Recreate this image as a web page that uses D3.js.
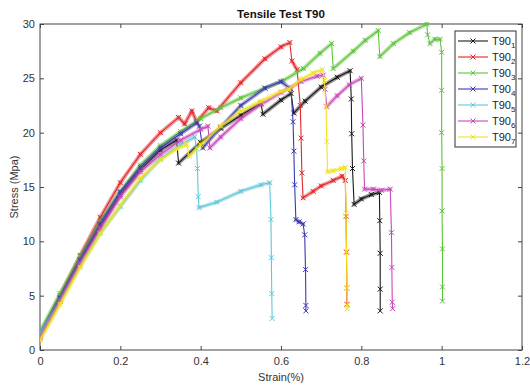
<!DOCTYPE html>
<html>
<head>
<meta charset="utf-8">
<script src="https://cdn.jsdelivr.net/npm/d3@7"></script>
<style>
  body { margin: 0; background: #fff; }
  text { font-family: "Liberation Sans", Arial, sans-serif; }
</style>
</head>
<body>
<svg id="chart" width="530" height="385"></svg>
<script>
// strain (%) / stress (MPa) pairs
const T90_1 = [[0,1.3],[0.05,4.7],[0.1,8.2],[0.15,11.4],[0.2,14.3],[0.25,16.6],[0.3,18.4],[0.34,19.3],[0.345,17.2],[0.4,19.1],[0.45,20.4],[0.5,21.6],[0.55,22.7],[0.555,21.7],[0.6,23.0],[0.625,23.6],[0.632,21.8],[0.66,22.9],[0.7,24.2],[0.74,25.1],[0.772,25.7],[0.775,23.1],[0.776,19.9],[0.778,16.7],[0.782,13.4],[0.8,13.9],[0.825,14.3],[0.845,14.5],[0.846,11.9],[0.847,8.9],[0.847,5.6],[0.847,3.6]];
const T90_2 = [[0,1.2],[0.05,5.0],[0.1,8.7],[0.15,12.2],[0.2,15.4],[0.25,18.0],[0.3,20.0],[0.345,21.4],[0.36,20.8],[0.378,22.0],[0.39,21.0],[0.42,22.3],[0.44,22.0],[0.5,24.6],[0.56,26.8],[0.6,27.9],[0.622,28.3],[0.627,26.6],[0.64,25.8],[0.648,22.5],[0.65,19.5],[0.652,16.3],[0.655,14.0],[0.68,14.6],[0.7,15.1],[0.73,15.6],[0.752,16.0],[0.76,15.6],[0.762,12.3],[0.763,9.0],[0.764,5.7],[0.764,4.2]];
const T90_3 = [[0,1.7],[0.05,5.2],[0.1,8.6],[0.15,11.8],[0.2,14.6],[0.25,17.0],[0.3,18.8],[0.35,20.1],[0.4,21.3],[0.45,22.3],[0.5,23.2],[0.56,24.1],[0.606,24.8],[0.656,25.9],[0.697,27.3],[0.726,28.2],[0.73,25.9],[0.78,27.5],[0.81,28.5],[0.842,29.4],[0.846,27.0],[0.88,28.2],[0.92,29.2],[0.963,30.0],[0.965,29.0],[0.971,28.2],[0.983,28.6],[0.996,28.6],[1.0,27.4],[1.0,23.9],[1.0,20.0],[1.001,16.7],[1.001,12.8],[1.002,9.3],[1.002,5.8],[1.002,4.5]];
const T90_4 = [[0,1.4],[0.05,4.8],[0.1,8.3],[0.15,11.6],[0.2,14.5],[0.25,16.8],[0.3,18.6],[0.35,19.9],[0.39,20.9],[0.397,20.6],[0.405,18.6],[0.45,20.5],[0.5,22.5],[0.56,24.1],[0.6,24.7],[0.625,24.0],[0.63,21.0],[0.632,18.3],[0.634,15.2],[0.637,12.0],[0.645,11.8],[0.655,11.6],[0.659,10.6],[0.661,7.4],[0.662,4.1],[0.662,3.6]];
const T90_5 = [[0,1.5],[0.05,4.5],[0.1,7.8],[0.15,10.8],[0.2,13.2],[0.25,15.6],[0.3,17.6],[0.35,18.9],[0.385,19.6],[0.39,18.5],[0.392,16.7],[0.394,14.1],[0.396,13.1],[0.44,13.6],[0.5,14.6],[0.55,15.2],[0.572,15.4],[0.575,12.0],[0.576,8.5],[0.577,5.2],[0.578,2.9]];
const T90_6 = [[0,1.1],[0.05,4.5],[0.1,8.0],[0.15,11.2],[0.2,14.1],[0.25,16.4],[0.3,18.0],[0.35,19.3],[0.4,20.3],[0.418,20.6],[0.423,18.6],[0.45,19.6],[0.5,21.3],[0.55,22.6],[0.6,23.7],[0.65,24.7],[0.69,25.2],[0.705,25.3],[0.71,24.0],[0.714,22.4],[0.74,23.4],[0.77,24.4],[0.8,25.0],[0.804,20.7],[0.806,17.4],[0.808,14.8],[0.83,14.8],[0.85,14.7],[0.872,14.8],[0.875,10.8],[0.876,7.6],[0.877,4.4],[0.878,3.8]];
const T90_7 = [[0,0.9],[0.05,4.2],[0.1,7.6],[0.15,10.7],[0.2,13.3],[0.25,15.8],[0.3,17.5],[0.34,18.5],[0.365,18.9],[0.372,17.8],[0.4,18.9],[0.45,20.6],[0.5,22.0],[0.55,22.9],[0.6,23.8],[0.62,24.0],[0.65,24.9],[0.68,25.5],[0.703,25.8],[0.708,24.8],[0.712,22.4],[0.714,19.2],[0.716,16.4],[0.73,16.5],[0.75,16.7],[0.76,16.8],[0.762,12.6],[0.763,9.1],[0.764,5.7],[0.765,4.1],[0.765,3.8]];

const seriesNames = ["1", "2", "3", "4", "5", "6", "7"];
const seriesData = [T90_1, T90_2, T90_3, T90_4, T90_5, T90_6, T90_7];
const colors = ["#1a1a1a", "#e3262b", "#5cc43a", "#3d3aae", "#62c6d9", "#c948b8", "#f2e21c"];

const xTicks = [0, 0.2, 0.4, 0.6, 0.8, 1, 1.2];
const yTicks = [0, 5, 10, 15, 20, 25, 30];

const svg = d3.select("#chart");
const margin = { top: 24, right: 8, bottom: 35, left: 40 };
const W = 530, H = 385;

const x = d3.scaleLinear().domain([0, 1.2]).range([margin.left, W - margin.right]);
const y = d3.scaleLinear().domain([0, 30]).range([H - margin.bottom, margin.top]);

svg.append("clipPath").attr("id", "plotClip")
  .append("rect")
  .attr("x", x(0)).attr("y", y(30) - 2)
  .attr("width", x(1.2) - x(0)).attr("height", y(0) - y(30) + 2);

// axes (inward ticks on all four sides, MATLAB style)
const axisColor = "#444";
const styleAxis = g => {
  g.select(".domain").remove();
  g.selectAll(".tick line").attr("stroke", axisColor);
  g.selectAll(".tick text").attr("fill", "#333").style("font-size", "11px");
};

svg.append("g").attr("transform", `translate(0,${y(0)})`)
  .call(d3.axisBottom(x).tickValues(xTicks).tickSize(-4).tickPadding(7).tickFormat(d3.format("~g")))
  .call(styleAxis);
svg.append("g").attr("transform", `translate(0,${y(30)})`)
  .call(d3.axisTop(x).tickValues(xTicks).tickSize(-4).tickFormat(""))
  .call(styleAxis);
svg.append("g").attr("transform", `translate(${x(0)},0)`)
  .call(d3.axisLeft(y).tickValues(yTicks).tickSize(-4).tickPadding(5))
  .call(styleAxis);
svg.append("g").attr("transform", `translate(${x(1.2)},0)`)
  .call(d3.axisRight(y).tickValues(yTicks).tickSize(-4).tickFormat(""))
  .call(styleAxis);

svg.append("rect")
  .attr("x", x(0)).attr("y", y(30))
  .attr("width", x(1.2) - x(0)).attr("height", y(0) - y(30))
  .attr("fill", "none").attr("stroke", axisColor).attr("stroke-width", 1);

// curves
const line = d3.line().x(d => x(d[0])).y(d => y(d[1]));
const cross = "M-2.5,-2.5L2.5,2.5M-2.5,2.5L2.5,-2.5";
const plot = svg.append("g").attr("clip-path", "url(#plotClip)");

seriesData.forEach((pts, i) => {
  const g = plot.append("g");
  // dense markers on the loading parts look like a fuzzy band; drops stay thin
  const bandSegs = [];
  for (let k = 1; k < pts.length; k++) {
    const dx = Math.abs(x(pts[k][0]) - x(pts[k - 1][0]));
    const dy = Math.abs(y(pts[k][1]) - y(pts[k - 1][1]));
    if (dx > 0.3 * dy) bandSegs.push([pts[k - 1], pts[k]]);
  }
  g.selectAll(".band").data(bandSegs).enter().append("path")
    .attr("d", line)
    .attr("fill", "none")
    .attr("stroke", colors[i])
    .attr("stroke-width", 4)
    .attr("stroke-linecap", "round")
    .attr("opacity", 0.45);
  g.append("path").datum(pts)
    .attr("d", line)
    .attr("fill", "none")
    .attr("stroke", colors[i])
    .attr("stroke-width", 1.1);
  g.selectAll(".mk").data(pts).enter().append("path")
    .attr("d", cross)
    .attr("transform", d => `translate(${x(d[0])},${y(d[1])})`)
    .attr("fill", "none")
    .attr("stroke", colors[i])
    .attr("stroke-width", 1);
});

// title and labels
svg.append("text")
  .attr("x", (x(0) + x(1.2)) / 2).attr("y", 18)
  .attr("text-anchor", "middle")
  .style("font-size", "11.5px").style("font-weight", "bold")
  .attr("fill", "#111")
  .text("Tensile Test T90");

svg.append("text")
  .attr("x", (x(0) + x(1.2)) / 2).attr("y", 381)
  .attr("text-anchor", "middle")
  .style("font-size", "11px").attr("fill", "#333")
  .text("Strain(%)");

svg.append("text")
  .attr("transform", `translate(18,${(y(0) + y(30)) / 2}) rotate(-90)`)
  .attr("text-anchor", "middle")
  .style("font-size", "11px").attr("fill", "#333")
  .text("Stress (Mpa)");

// legend
const legend = svg.append("g");
legend.append("rect")
  .attr("x", 455).attr("y", 31).attr("width", 61).attr("height", 116)
  .attr("fill", "#fff").attr("stroke", "#333").attr("stroke-width", 1);

seriesNames.forEach((n, i) => {
  const ly = 41 + i * 16;
  legend.append("line")
    .attr("x1", 458).attr("x2", 488).attr("y1", ly).attr("y2", ly)
    .attr("stroke", colors[i]).attr("stroke-width", 1.1);
  legend.append("path")
    .attr("d", cross).attr("transform", `translate(473,${ly})`)
    .attr("fill", "none").attr("stroke", colors[i]).attr("stroke-width", 1);
  const t = legend.append("text")
    .attr("x", 492).attr("y", ly + 4)
    .style("font-size", "11px").attr("fill", "#222");
  t.append("tspan").text("T90");
  t.append("tspan").attr("dy", 3).style("font-size", "8px").text(n);
});
</script>
</body>
</html>
